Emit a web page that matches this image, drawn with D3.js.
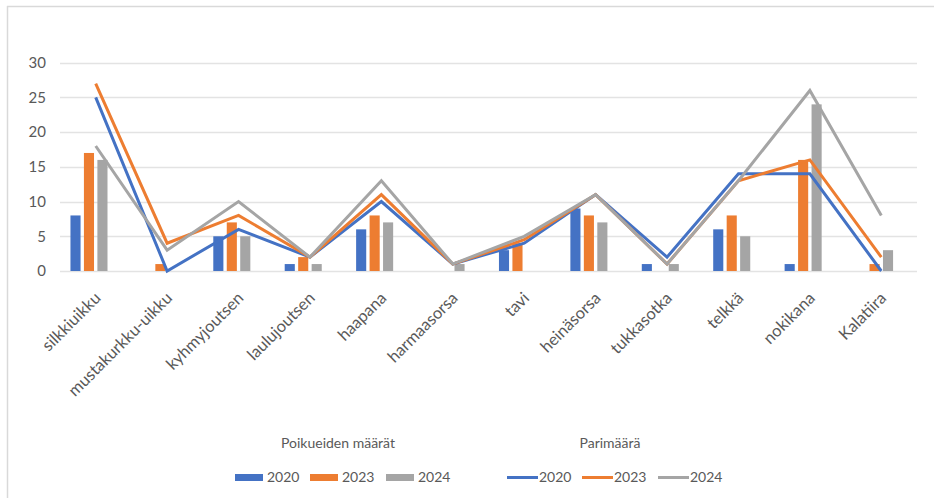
<!DOCTYPE html>
<html><head><meta charset="utf-8">
<script src="https://cdn.jsdelivr.net/npm/d3@7"></script>
<style>
html,body{margin:0;padding:0;background:#fff;}
text{font-family:"Lato","Open Sans",sans-serif;fill:#595959;}
</style></head>
<body><svg id="c" width="934" height="498"></svg>
<script>
const categories = ["silkkiuikku","mustakurkku-uikku","kyhmyjoutsen","laulujoutsen","haapana","harmaasorsa","tavi","heinäsorsa","tukkasotka","telkkä","nokikana","Kalatiira"];
const years = ["2020","2023","2024"];
const broods2020 = [8,0,5,1,6,0,3,9,1,6,1,0];
const broods2023 = [17,1,7,2,8,0,4,8,0,8,16,1];
const broods2024 = [16,0,5,1,7,1,0,7,1,5,24,3];
const pairs2020 = [25,0,6,2,10,1,4,11,2,14,14,0];
const pairs2023 = [27,4,8,2,11,1,4.5,11,1,13,16,2];
const pairs2024 = [18,3,10,2,13,1,5,11,1,13,26,8];
const yTicks = [0,5,10,15,20,25,30];
const barTitle = "Poikueiden määrät";
const lineTitle = "Parimäärä";
const colors = ["#4472C4","#ED7D31","#A5A5A5"];

const broods = [broods2020, broods2023, broods2024];
const pairs = [pairs2020, pairs2023, pairs2024];

const svg = d3.select("#c");
// frame
svg.append("line").attr("x1",7).attr("x2",934).attr("y1",6.5).attr("y2",6.5).attr("stroke","#d9d9d9").attr("stroke-width",1.5);
svg.append("line").attr("x1",7.5).attr("x2",7.5).attr("y1",6).attr("y2",498).attr("stroke","#d9d9d9").attr("stroke-width",1.5);

const x = d3.scaleBand().domain(categories).range([60,917]).paddingInner(0).paddingOuter(0);
const y = d3.scaleLinear().domain([0,30]).range([271,62.7]);
const xs = d3.scaleBand().domain(["a","b","c","d"]).range([-26.6,26.6]).paddingInner(0.25).paddingOuter(0.1);

// gridlines
svg.append("g").selectAll("line").data(yTicks).join("line")
  .attr("x1",60).attr("x2",917)
  .attr("y1",d=>Math.round(y(d))+0.5).attr("y2",d=>Math.round(y(d))+0.5)
  .attr("stroke","#e3e3e3").attr("stroke-width",1.5);

// y axis labels
const yAxis = d3.axisLeft(y).tickValues(yTicks).tickSize(0).tickPadding(0);
const ga = svg.append("g").attr("transform","translate(46,0)").call(yAxis);
ga.select(".domain").remove();
ga.selectAll("text").style("font-size","15px").attr("fill","#595959").style("font-family","Lato, 'Open Sans', sans-serif");

// x axis labels
const xAxis = d3.axisBottom(x).tickSize(0).tickPadding(0);
const gx = svg.append("g").attr("transform","translate(0,271)").call(xAxis);
gx.select(".domain").remove();
gx.selectAll("text")
  .style("font-size","16.5px").attr("fill","#595959").style("font-family","Lato, 'Open Sans', sans-serif")
  .attr("text-anchor","end")
  .attr("transform","translate(2,24) rotate(-45)")
  .attr("dy","0.35em").attr("y",0).attr("x",0);

// bars
const slots = ["a","b","c"];
broods.forEach((arr,si)=>{
  svg.append("g").selectAll("rect").data(arr).join("rect")
    .attr("x",(d,i)=>x(categories[i])+x.bandwidth()/2+xs(slots[si]))
    .attr("width",xs.bandwidth())
    .attr("y",d=>y(d))
    .attr("height",d=>y(0)-y(d))
    .attr("fill",colors[si]);
});

// lines
const line = d3.line().x((d,i)=>x(categories[i])+x.bandwidth()/2).y(d=>y(d));
pairs.forEach((arr,si)=>{
  svg.append("path").datum(arr).attr("d",line)
    .attr("fill","none").attr("stroke",colors[si]).attr("stroke-width",3)
    .attr("stroke-linejoin","miter");
});

// legends
svg.append("text").attr("x",338).attr("y",448).attr("text-anchor","middle").style("font-size","14px").text(barTitle);
svg.append("text").attr("x",610).attr("y",448).attr("text-anchor","middle").style("font-size","14px").text(lineTitle);
const barLeg = svg.append("g");
const barX = [235,310,386];
years.forEach((yr,i)=>{
  barLeg.append("rect").attr("x",barX[i]).attr("y",474).attr("width",28).attr("height",7).attr("fill",colors[i]);
  barLeg.append("text").attr("x",barX[i]+32).attr("y",482).style("font-size","14px").text(yr);
});
const lineX = [507,582,658];
years.forEach((yr,i)=>{
  barLeg.append("line").attr("x1",lineX[i]).attr("x2",lineX[i]+31).attr("y1",477.5).attr("y2",477.5).attr("stroke",colors[i]).attr("stroke-width",3);
  barLeg.append("text").attr("x",lineX[i]+32).attr("y",482).style("font-size","14px").text(yr);
});
</script>
</body></html>
